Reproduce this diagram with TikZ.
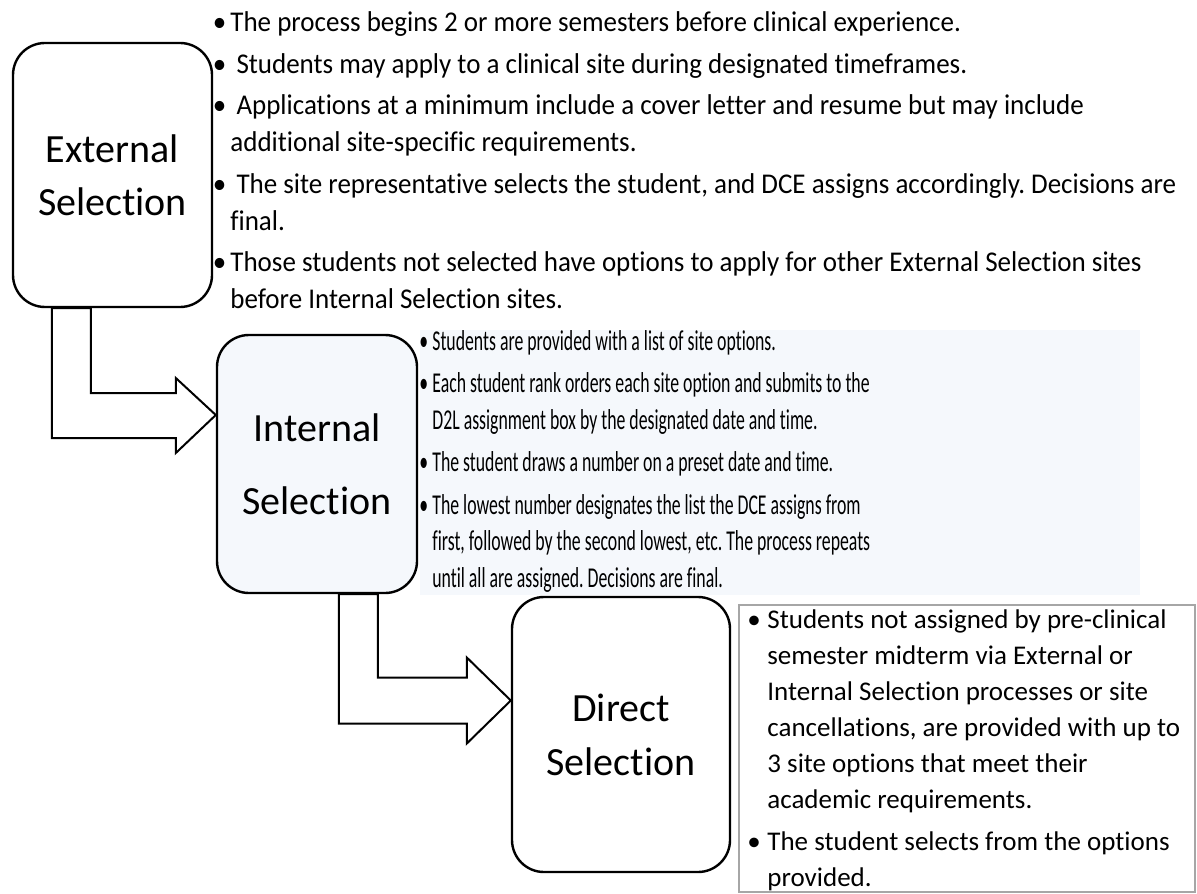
\documentclass[tikz,border=0pt]{standalone}
\usepackage{fontspec}
\setmainfont{Carlito}[Ligatures=NoCommon]
\usepackage{graphicx}
\usetikzlibrary{calc}
\frenchspacing

\definecolor{paleblue}{RGB}{245,248,252}
\newcommand{\bulletmark}[1][2pt]{\llap{•\hspace{#1}}}
\newcommand{\notelines}[3]{\scalebox{#1}[#2]{\begin{tabular}[t]{@{}l@{}}#3\end{tabular}}}

\tikzset{
  stage/.style={draw, line width=1.2pt, rounded corners=16pt, align=center, inner sep=0pt},
  hollow/.style={draw, line width=1pt, line join=miter},
  notes/.style={anchor=base west, inner sep=0pt},
}

\begin{document}
\begin{tikzpicture}[x=0.5pt, y=-0.5pt]
\useasboundingbox (0,0) rectangle (1197,893);

% Background behind the internal notes
\fill[paleblue] (420,330) rectangle (1140,595);

% Stages
\node[stage, minimum width=99.5pt, minimum height=132pt, font=\fontsize{20}{26.5}\selectfont] (ext) at (112.5,175) {External\\Selection};
\node[stage, minimum width=100pt, minimum height=129pt, fill=paleblue, font=\fontsize{20}{36.5}\selectfont] (int) at (317,464) {Internal\\Selection};
\node[stage, minimum width=109pt, minimum height=137.5pt, font=\fontsize{20}{27}\selectfont] (dir) at (621,734.5) {Direct\\Selection};

% Arrow tips
\coordinate (t1) at ($(int.west)+(0,-49)$);
\coordinate (t2) at ($(dir.west)+(0,-34)$);

% Hollow bent arrows
\draw[hollow] ($(ext.south west)+(40,0)$) |- ($(t1)+(-40,23)$) -- ++(0,15) -- (t1) -- ++(-40,-37) -- ++(0,15) -| ($(ext.south west)+(79,0)$) -- cycle;
\draw[hollow] ($(int.south west)+(123,0)$) |- ($(t2)+(-44,23)$) -- ++(0,20) -- (t2) -- ++(-44,-43) -- ++(0,20) -| ($(int.south west)+(162,0)$) -- cycle;

% Notes
\node[notes, font=\fontsize{13.5}{17.45}\selectfont] (extnotes) at (230,32) {\notelines{1}{1.06}{%
\bulletmark The process begins 2 or more semesters before clinical experience.\\[2.1pt]
\bulletmark\ Students may apply to a clinical site during designated timeframes.\\[2.1pt]
\bulletmark\ Applications at a minimum include a cover letter and resume but may include\\
additional site-specific requirements.\\[2.1pt]
\bulletmark\ The site representative selects the student, and DCE assigns accordingly. Decisions are\\
final.\\[2.1pt]
\bulletmark Those students not selected have options to apply for other External Selection sites\\
before Internal Selection sites.}};

\node[notes, font=\fontsize{12.5}{15.9}\selectfont] (intnotes) at (432,350) {\notelines{0.71}{1.15}{%
\bulletmark[3pt]Students are provided with a list of site options.\\[2.6pt]
\bulletmark[3pt]Each student rank orders each site option and submits to the\\
D2L assignment box by the designated date and time.\\[2.6pt]
\bulletmark[3pt]The student draws a number on a preset date and time.\\[2.6pt]
\bulletmark[3pt]The lowest number designates the list the DCE assigns from\\
first, followed by the second lowest, etc. The process repeats\\
until all are assigned. Decisions are final.}};

\draw[gray!70, line width=0.6pt] (739,605) rectangle (1195,892);
\node[notes, font=\fontsize{13.5}{18}\selectfont] (dirnotes) at (767,628) {\notelines{1}{1}{%
\bulletmark[3.3pt]Students not assigned by pre-clinical\\
semester midterm via External or\\
Internal Selection processes or site\\
cancellations, are provided with up to\\
3 site options that meet their\\
academic requirements.\\[3pt]
\bulletmark[3.3pt]The student selects from the options\\
provided.}};
\end{tikzpicture}
\end{document}
